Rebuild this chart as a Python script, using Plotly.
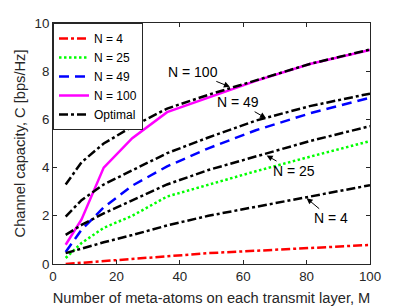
import plotly.graph_objects as go

M = [4, 9, 16, 25, 36, 49, 64, 81, 100]

cap_n4 = [0.0, 0.05, 0.15, 0.23, 0.35, 0.45, 0.55, 0.66, 0.79]
cap_n25 = [0.25, 0.87, 1.5, 2.0, 2.8, 3.3, 3.85, 4.45, 5.1]
cap_n49 = [0.5, 1.42, 2.35, 3.25, 4.05, 4.8, 5.55, 6.25, 6.9]
cap_n100 = [0.8, 1.85, 4.0, 5.22, 6.3, 6.9, 7.6, 8.3, 8.88]

opt_n4 = [0.45, 0.65, 0.9, 1.2, 1.6, 2.0, 2.38, 2.78, 3.27]
opt_n25 = [1.21, 1.62, 2.1, 2.65, 3.3, 3.9, 4.45, 5.1, 5.72]
opt_n49 = [1.97, 2.65, 3.3, 3.9, 4.6, 5.25, 5.95, 6.55, 7.07]
opt_n100 = [3.3, 4.22, 5.0, 5.7, 6.45, 7.02, 7.62, 8.3, 8.9]

legend_names = ["N = 4", "N = 25", "N = 49", "N = 100", "Optimal"]
x_ticks = [0, 20, 40, 60, 80, 100]
y_ticks = [0, 2, 4, 6, 8, 10]

FONT = "Liberation Sans, Arial, sans-serif"
AX = "#262626"
DASHDOT = "9px,3px,3px,3px"

fig = go.Figure()
fig.add_trace(go.Scatter(x=M, y=cap_n4, mode="lines", name=legend_names[0],
                         line=dict(color="#ff0000", width=2.5, dash=DASHDOT)))
fig.add_trace(go.Scatter(x=M, y=cap_n25, mode="lines", name=legend_names[1],
                         line=dict(color="#00ff00", width=2.5, dash="2.5px,2.5px")))
fig.add_trace(go.Scatter(x=M, y=cap_n49, mode="lines", name=legend_names[2],
                         line=dict(color="#0000ff", width=2.5, dash="10px,6px")))
fig.add_trace(go.Scatter(x=M, y=cap_n100, mode="lines", name=legend_names[3],
                         line=dict(color="#ff00ff", width=2.5)))
for i, opt in enumerate([opt_n4, opt_n25, opt_n49, opt_n100]):
    fig.add_trace(go.Scatter(x=M, y=opt, mode="lines", name=legend_names[4],
                             showlegend=(i == 0),
                             line=dict(color="#000000", width=2.5, dash=DASHDOT)))

annos = [
    ("N = 100", 55.8, 7.35, -37, -15),
    ("N = 49", 67.2, 6.05, -28, -16),
    ("N = 25", 67.4, 4.5, 27, 15),
    ("N = 4", 80.0, 2.73, 24, 20),
]
for text, ax_, ay_, dx, dy in annos:
    fig.add_annotation(x=ax_, y=ay_, text=text, showarrow=True, ax=dx, ay=dy,
                       arrowhead=2, arrowsize=1.2, arrowwidth=1, arrowcolor="#000000",
                       font=dict(size=14, color="#000000", family=FONT))

fig.update_layout(
    width=401, height=299,
    margin=dict(l=45, r=39, t=15, b=43, autoexpand=False),
    paper_bgcolor="white", plot_bgcolor="white",
    font=dict(family=FONT, size=13.33, color=AX),
    showlegend=True,
    legend=dict(x=0, y=1, xanchor="left", yanchor="top",
                bgcolor="white", bordercolor=AX, borderwidth=1,
                font=dict(size=12, color="#000000", family=FONT),
                itemwidth=30, tracegroupgap=0),
)
fig.update_xaxes(range=[0, 100], tickvals=x_ticks, ticks="inside", ticklen=4,
                 tickcolor=AX, showline=True, linecolor=AX, linewidth=1,
                 mirror="allticks", showgrid=False, zeroline=False, automargin=False,
                 tickfont=dict(size=13.33, color=AX),
                 title=dict(text="Number of meta-atoms on each transmit layer, M",
                            font=dict(size=14.67, color=AX), standoff=9))
fig.update_yaxes(range=[0, 10], tickvals=y_ticks, ticks="inside", ticklen=4,
                 tickcolor=AX, showline=True, linecolor=AX, linewidth=1,
                 mirror="allticks", showgrid=False, zeroline=False, automargin=False,
                 tickfont=dict(size=13.33, color=AX),
                 title=dict(text="Channel capacity, C [bps/Hz]",
                            font=dict(size=14.67, color=AX), standoff=5))

fig.write_html("out.html")
